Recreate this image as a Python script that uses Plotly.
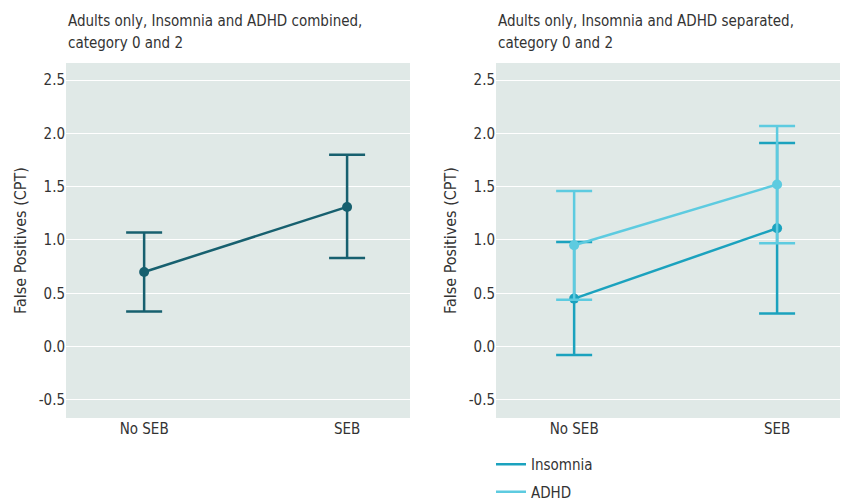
import plotly.graph_objects as go

categories = ["No SEB", "SEB"]
combined_mean = [0.70, 1.31]
combined_low = [0.33, 0.83]
combined_high = [1.07, 1.80]

insomnia_mean = [0.45, 1.11]
insomnia_low = [-0.08, 0.31]
insomnia_high = [0.98, 1.91]

adhd_mean = [0.95, 1.52]
adhd_low = [0.44, 0.97]
adhd_high = [1.46, 2.07]

y_ticks = [-0.5, 0.0, 0.5, 1.0, 1.5, 2.0, 2.5]
y_ticktext = ["-0.5", "0.0", "0.5", "1.0", "1.5", "2.0", "2.5"]

C_COMB = "#17606f"
C_INS = "#1ba2be"
C_ADHD = "#5dcbe0"
FONT = "Liberation Sans Narrow, DejaVu Sans Condensed, sans-serif"


def err(mean, low, high, color):
    return dict(type="data", symmetric=False,
                array=[h - m for h, m in zip(high, mean)],
                arrayminus=[m - l for m, l in zip(mean, low)],
                color=color, thickness=2.5, width=18)


fig = go.Figure()
fig.add_trace(go.Scatter(x=categories, y=combined_mean, mode="lines+markers",
                         line=dict(color=C_COMB, width=2.5), marker=dict(size=10, color=C_COMB),
                         error_y=err(combined_mean, combined_low, combined_high, C_COMB),
                         showlegend=False, xaxis="x", yaxis="y"))
fig.add_trace(go.Scatter(x=categories, y=insomnia_mean, mode="lines+markers",
                         line=dict(color=C_INS, width=2.5), marker=dict(size=10, color=C_INS),
                         error_y=err(insomnia_mean, insomnia_low, insomnia_high, C_INS),
                         showlegend=False, xaxis="x2", yaxis="y2"))
fig.add_trace(go.Scatter(x=categories, y=adhd_mean, mode="lines+markers",
                         line=dict(color=C_ADHD, width=2.5), marker=dict(size=10, color=C_ADHD),
                         error_y=err(adhd_mean, adhd_low, adhd_high, C_ADHD),
                         showlegend=False, xaxis="x2", yaxis="y2"))
# legend entries
fig.add_trace(go.Scatter(x=[None], y=[None], mode="lines", name="Insomnia", legendgroup="ins",
                         line=dict(color=C_INS, width=2.5), xaxis="x2", yaxis="y2"))
fig.add_trace(go.Scatter(x=[None], y=[None], mode="lines", name="ADHD", legendgroup="adhd",
                         line=dict(color=C_ADHD, width=2.5), xaxis="x2", yaxis="y2"))

W, H = 841, 501
ydom = [(H - 418) / H, (H - 63) / H]
xdom1 = [66 / W, 410 / W]
xdom2 = [496 / W, 840 / W]

yax = dict(range=[-0.67, 2.66], tickvals=y_ticks, ticktext=y_ticktext, showgrid=True,
           gridcolor="#ffffff", gridwidth=1, zeroline=False, showline=False, automargin=False,
           ticks="", tickfont=dict(size=15, color="#333333", family=FONT),
           title=dict(text="False Positives (CPT)", font=dict(size=16, color="#333333", family=FONT), standoff=8),
           domain=ydom)
xax = dict(type="category", range=[-0.385, 1.31], showgrid=False, zeroline=False, showline=False,
           automargin=False, ticks="", tickfont=dict(size=15, color="#333333", family=FONT))

title_font = dict(size=15, color="#333333", family=FONT)
ann = []
for x0, lines in [(66, ["Adults only, Insomnia and ADHD combined,", "category 0 and 2"]),
                  (496, ["Adults only, Insomnia and ADHD separated,", "category 0 and 2"])]:
    for i, t in enumerate(lines):
        ann.append(dict(text=t, x=x0 / W, y=1 - (21 + 22 * i) / H, xref="paper", yref="paper",
                        xanchor="left", yanchor="middle", showarrow=False, align="left",
                        font=title_font))

fig.update_layout(
    width=W, height=H,
    margin=dict(l=0, r=0, t=0, b=0, autoexpand=False),
    paper_bgcolor="#ffffff", plot_bgcolor="#e0e9e7",
    font=dict(family=FONT, color="#333333"),
    xaxis=dict(xax, domain=xdom1, anchor="y"),
    yaxis=dict(yax, anchor="x"),
    xaxis2=dict(xax, domain=xdom2, anchor="y2"),
    yaxis2=dict(yax, anchor="x2"),
    legend=dict(x=491 / W, y=1 - 448 / H, xanchor="left", yanchor="top",
                font=dict(size=15, color="#333333", family=FONT),
                bgcolor="rgba(0,0,0,0)", tracegroupgap=5, itemwidth=30),
    annotations=ann,
)

fig.write_html("out.html")
